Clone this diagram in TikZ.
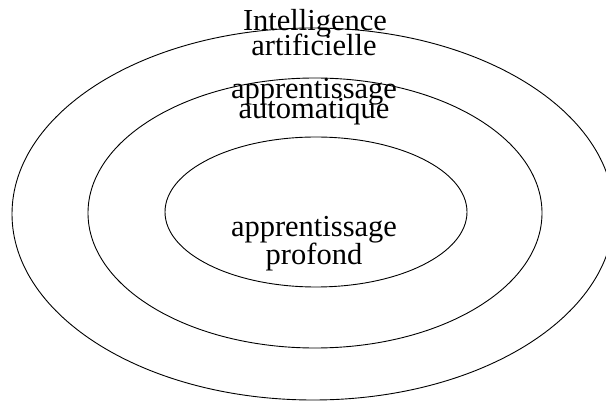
\documentclass[tikz,border=0pt]{standalone}
\usepackage{fontspec}
\setmainfont{Liberation Serif}
\begin{document}
\begin{tikzpicture}[x=1pt,y=1pt,
  ring/.style={draw=black,line width=0.9pt},
  lbl/.style={anchor=base,inner sep=0pt,font=\fontsize{30.5}{30.5}\selectfont}]
\useasboundingbox (0,0) rectangle (606,402);
\fill[white] (0,0) rectangle (606,402);
\draw[ring] (313,188) ellipse [x radius=301, y radius=186];
\draw[ring] (315,189) ellipse [x radius=227, y radius=135];
\draw[ring] (316,190) ellipse [x radius=151, y radius=75];
\node[lbl] (ai1) at (315,371) {Intelligence};
\node[lbl] (ai2) at (314,346) {artificielle};
\node[lbl] (ml1) at (314,303) {apprentissage};
\node[lbl] (ml2) at (314,283) {automatique};
\node[lbl] (dl1) at (314,165) {apprentissage};
\node[lbl] (dl2) at (314,137) {profond};
\end{tikzpicture}
\end{document}
